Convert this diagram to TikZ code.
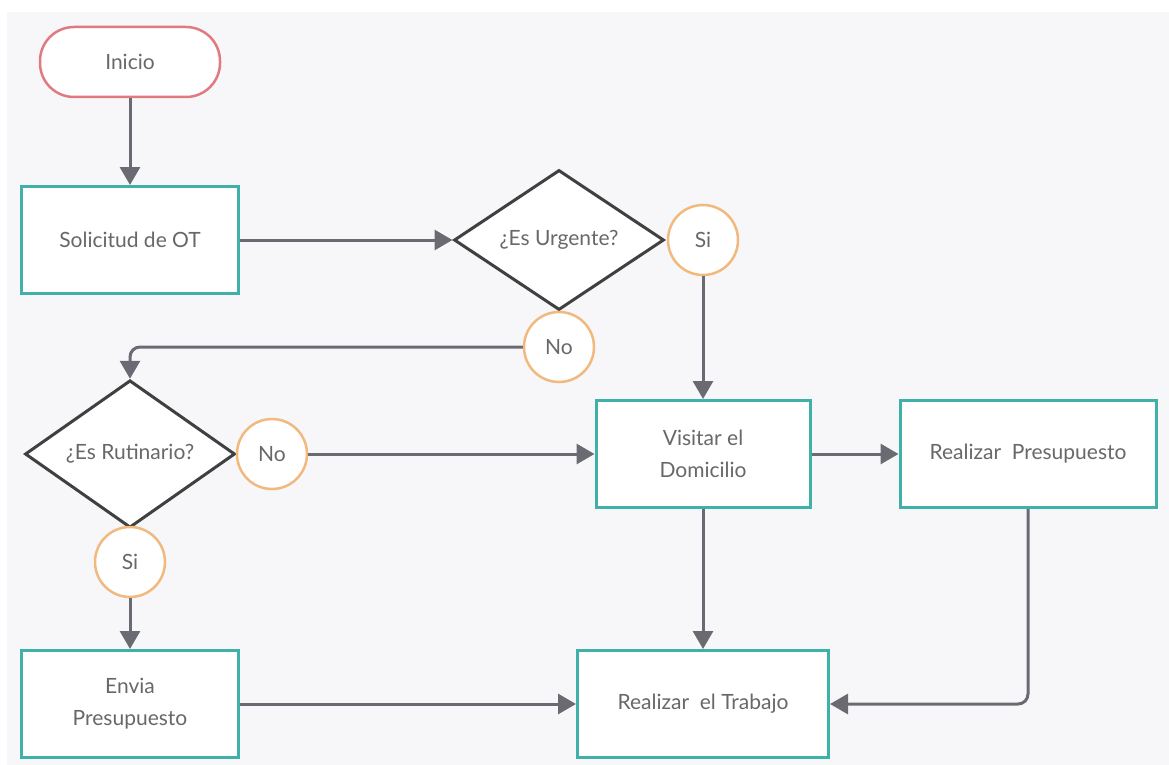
\documentclass[tikz,border=0pt]{standalone}
\usepackage{fontspec}
\setmainfont{Lato}
\usetikzlibrary{arrows.meta,shapes.geometric}
\definecolor{bgcol}{HTML}{F7F7FA}
\definecolor{tealcol}{HTML}{3FB1A8}
\definecolor{redcol}{HTML}{E07A80}
\definecolor{orangecol}{HTML}{F2B97E}
\definecolor{flowcol}{HTML}{6A6A72}
\definecolor{txtcol}{HTML}{686868}

\begin{document}
\begin{tikzpicture}[x=1pt,y=-1pt,
  every node/.style={font=\fontsize{21}{32}\selectfont,text=txtcol,align=center},
  startbox/.style={draw=redcol,line width=2.5pt,fill=white,rectangle,rounded corners=34pt,
    minimum width=180pt,minimum height=70pt},
  procbox/.style={draw=tealcol,line width=3pt,fill=white,rectangle,minimum height=107pt},
  askbox/.style={draw=black!75,line width=3pt,fill=white,diamond,inner sep=0pt,
    minimum width=210pt,minimum height=140pt},
  answer/.style={draw=orangecol,line width=2.5pt,fill=white,circle,minimum size=70pt,inner sep=0pt},
  flow/.style={draw=flowcol,line width=3pt,-{Triangle[length=18pt,width=20pt]},rounded corners=10pt}]
  \useasboundingbox (0,0) rectangle (1169,765);
  \fill[bgcol] (7,12) rectangle (1169,765);

  \node[startbox] (inicio) at (130,62) {Inicio};
  \node[procbox,minimum width=217pt] (solicitud) at (130,240) {Solicitud de OT};
  \node[askbox] (urgente) at (559,240) {¿Es Urgente?};
  \node[answer] (urgsi) at (703,240) {Si};
  \node[answer] (urgno) at (559,347) {No};
  \node[askbox] (rutinario) at (130,454) {¿Es Rutinario?};
  \node[answer] (rutno) at (272,454) {No};
  \node[answer] (rutsi) at (130,562) {Si};
  \node[procbox,minimum width=217pt] (envia) at (130,704) {Envia\\Presupuesto};
  \node[procbox,minimum width=214pt] (visitar) at (703,454) {Visitar el\\Domicilio};
  \node[procbox,minimum width=256pt] (presupuesto) at (1028,454) {Realizar\ \ Presupuesto};
  \node[procbox,minimum width=251pt] (trabajo) at (703,704) {Realizar\ \ el Trabajo};

  \draw[flow] (inicio) -- (solicitud);
  \draw[flow] (solicitud) -- (urgente);
  \draw[flow] (urgno.west) -| (rutinario.north);
  \draw[flow] (urgsi) -- (visitar);
  \draw[flow] (rutno) -- (visitar);
  \draw[flow] (rutsi) -- (envia);
  \draw[flow] (envia) -- (trabajo);
  \draw[flow] (visitar) -- (presupuesto);
  \draw[flow] (visitar) -- (trabajo);
  \draw[flow] (presupuesto.south) |- (trabajo.east);
\end{tikzpicture}
\end{document}
